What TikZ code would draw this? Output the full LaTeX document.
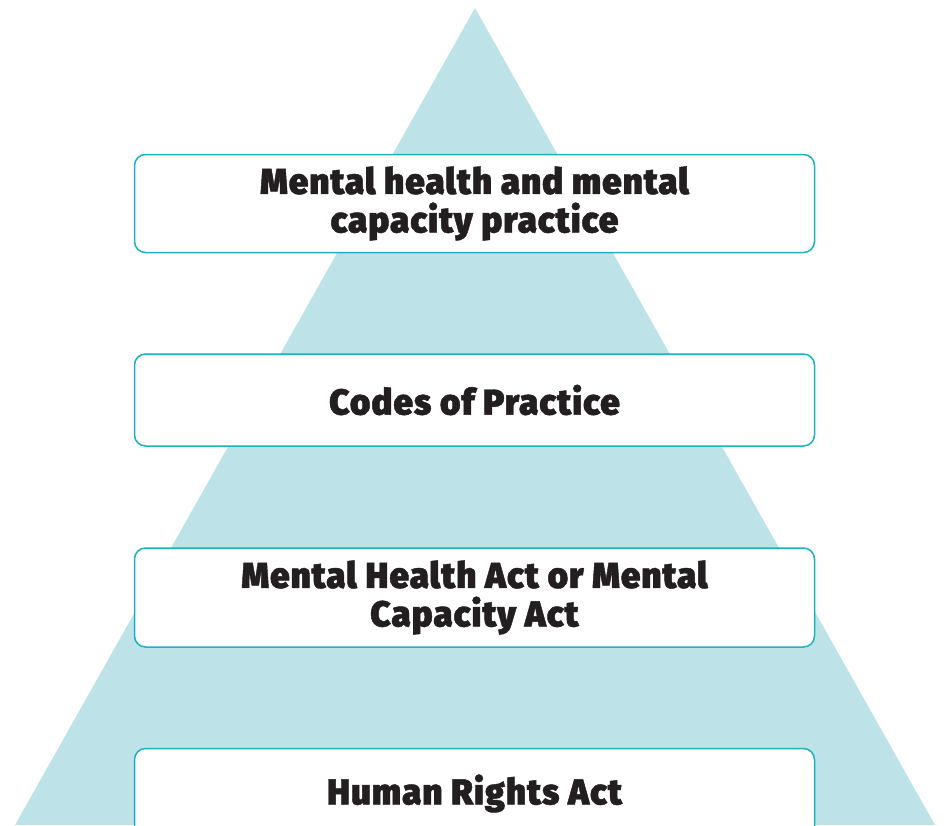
\documentclass[tikz,border=0pt]{standalone}
\usepackage{fontspec}
\newfontfamily\heavyfont{Fira Sans}[UprightFont={* Black}, FakeStretch=0.97, FakeBold=1.2, LetterSpace=3]
\definecolor{trifill}{HTML}{BDE3E8}
\definecolor{boxline}{HTML}{1CB1C0}
\definecolor{txt}{HTML}{231F20}
\tikzset{
  levelbox/.style={draw=boxline, line width=1.5pt, fill=white, rounded corners=11pt,
    minimum width=680pt, align=center, text=txt,
    font=\heavyfont\fontsize{36}{38.5}\selectfont, inner sep=0pt},
}
\begin{document}
\begin{tikzpicture}[x=1pt,y=-1pt]
\useasboundingbox (0,0) rectangle (949,825);
\clip (0,0) rectangle (949,825);
\fill[trifill] (475,8) -- (15,825) -- (935,825) -- cycle;
\node[levelbox, minimum height=98pt] (practice) at (474.5,203.5) {Mental health and mental\\capacity practice};
\node[levelbox, minimum height=92pt] (codes) at (474.5,400) {Codes of Practice};
\node[levelbox, minimum height=99pt] (acts) at (474.5,597.5) {Mental Health Act or Mental\\Capacity Act};
\node[levelbox, minimum height=90pt] (hra) at (474.5,793.5) {Human Rights Act};
\end{tikzpicture}
\end{document}
